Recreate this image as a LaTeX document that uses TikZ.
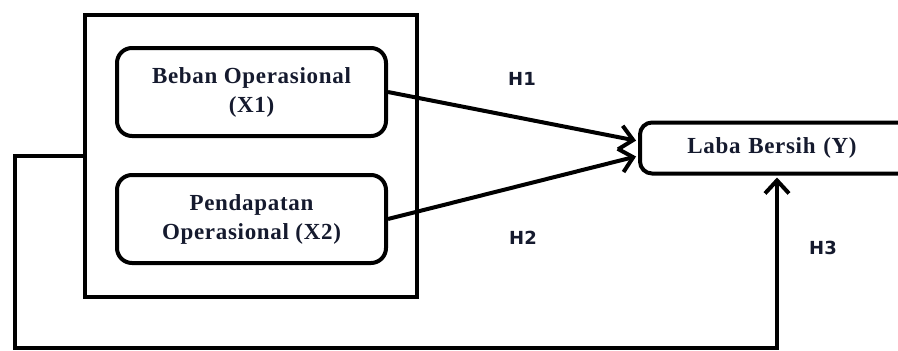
\documentclass[tikz,border=0pt]{standalone}
\usepackage{fontspec}
\setmainfont{Liberation Serif}[LetterSpace=3]
\newfontfamily\hfont{DejaVu Sans}
\usetikzlibrary{arrows.meta}
\definecolor{ink}{HTML}{151A2E}
\tikzset{
  every picture/.style={x=1pt,y=-1pt},
  frame/.style={draw, line width=4pt, inner sep=0pt},
  varbox/.style={draw, line width=4pt, rounded corners=15pt, inner sep=0pt,
    minimum width=269pt, minimum height=88pt, align=center,
    font=\fontsize{23}{29}\selectfont\bfseries, text=ink},
  ybox/.style={draw, line width=4pt, rounded corners=12pt, inner sep=0pt,
    minimum width=290pt, minimum height=51pt, align=center,
    font=\fontsize{23}{29}\selectfont\bfseries, text=ink},
  conn/.style={line width=4pt, -{Straight Barb[length=13pt,width=24pt,line width=4pt]}},
  hlabel/.style={font=\hfont\fontsize{18}{20}\selectfont\bfseries, text=ink, inner sep=0pt}
}
\begin{document}
\begin{tikzpicture}
\useasboundingbox (0,0) rectangle (898,351);
\clip (0,0) rectangle (898,351);
\fill[white] (0,0) rectangle (898,351);
\node[frame, minimum width=332pt, minimum height=282pt] (outer) at (251,156) {};
\node[varbox] (x1) at (251.5,92) {Beban Operasional\\(X1)};
\node[varbox] (x2) at (251.5,219) {Pendapatan\\Operasional (X2)};
\node[ybox, text width=264pt, xshift=13pt] (y) at (772,148) {\hspace*{-26pt}Laba Bersih (Y)};
\coordinate (fbL) at (15,348);
\coordinate (fbR) at (777,348);
\draw[conn, shorten >=2pt] (x1.east) -- ([yshift=7pt]y.west);
\draw[conn, shorten >=2pt] (x2.east) -- ([yshift=-8pt]y.west);
\draw[conn, line join=miter, shorten >=2pt] (outer.west) -| (fbL) -- (fbR) -- (fbR |- y.south);
\node[hlabel] (h1) at (522,79) {H1};
\node[hlabel] (h2) at (523,238) {H2};
\node[hlabel] (h3) at (823,248) {H3};
\end{tikzpicture}
\end{document}
